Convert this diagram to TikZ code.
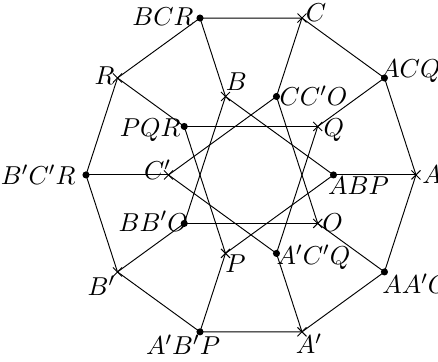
\documentclass[tikz,border=0pt]{standalone}
\usetikzlibrary{shapes.misc}
\begin{document}
\begin{tikzpicture}[dot/.style={circle,fill,inner sep=0pt,minimum size=3pt},
  crs/.style={cross out,draw,inner sep=0pt,minimum size=3.4pt},
  every node/.append style={font=\fontsize{11.4}{13}\selectfont}]
\useasboundingbox (-3.727000,-2.777000) rectangle (2.777000,2.598000);
% outer ring
\node [crs] (pA) at (2.450000,0.000000) {};
\node [dot] (lACQ) at (1.982100,1.440100) {};
\node [crs] (pC) at (0.757100,2.330100) {};
\node [dot] (lBCR) at (-0.757100,2.330100) {};
\node [crs] (pR) at (-1.982100,1.440100) {};
\node [dot] (lBpCpR) at (-2.450000,0.000000) {};
\node [crs] (pBp) at (-1.982100,-1.440100) {};
\node [dot] (lApBpP) at (-0.757100,-2.330100) {};
\node [crs] (pAp) at (0.757100,-2.330100) {};
\node [dot] (lAApO) at (1.982100,-1.440100) {};
% inner ring
\node [dot] (lABP) at (1.225000,0.000000) {};
\node [crs] (pQ) at (0.991100,0.720000) {};
\node [dot] (lCCpO) at (0.378500,1.165000) {};
\node [crs] (pB) at (-0.378500,1.165000) {};
\node [dot] (lPQR) at (-0.991100,0.720000) {};
\node [crs] (pCp) at (-1.225000,0.000000) {};
\node [dot] (lBBpO) at (-0.991100,-0.720000) {};
\node [crs] (pP) at (-0.378500,-1.165000) {};
\node [dot] (lApCpQ) at (0.378500,-1.165000) {};
\node [crs] (pO) at (0.991100,-0.720000) {};
% labels
\node (tA) at (2.688000,0.000000) {$A$};
\node (tACQ) at (2.368000,1.544000) {$ACQ$};
\node (tC) at (0.965000,2.404000) {$C$};
\node (tBCR) at (-1.306000,2.345000) {$BCR$};
\node (tR) at (-2.175000,1.470000) {$R$};
\node (tBpCpR) at (-3.160000,0.000000) {$B'C'R$};
\node (tBp) at (-2.220000,-1.648000) {$B'$};
\node (tApBpP) at (-1.009000,-2.523000) {$A'B'P$};
\node (tAp) at (0.861000,-2.508000) {$A'$};
\node (tAApO) at (2.442000,-1.618000) {$AA'O$};
\node (tABP) at (1.596000,-0.163000) {$ABP$};
\node (tQ) at (1.229000,0.661000) {$Q$};
\node (tCCpO) at (0.928000,1.180000) {$CC'O$};
\node (tB) at (-0.216000,1.388000) {$B$};
\node (tPQR) at (-1.496000,0.661000) {$PQR$};
\node (tCp) at (-1.388000,0.074000) {$C'$};
\node (tBBpO) at (-1.451000,-0.690000) {$BB'O$};
\node (tP) at (-0.231000,-1.313000) {$P$};
\node (tApCpQ) at (0.928000,-1.224000) {$A'C'Q$};
\node (tO) at (1.214000,-0.705000) {$O$};
% decagon
\draw (pA.center) -- (lACQ.center) -- (pC.center) -- (lBCR.center) -- (pR.center)
  -- (lBpCpR.center) -- (pBp.center) -- (lApBpP.center) -- (pAp.center)
  -- (lAApO.center) -- cycle;
% lines through the inner points
\draw (lBCR.center) -- (pB.center);
\draw (lACQ.center) -- (pQ.center);
\draw (lAApO.center) -- (pO.center);
\draw (lApBpP.center) -- (pP.center);
\draw (lBpCpR.center) -- (pCp.center);
\draw (pR.center) -- (lPQR.center);
\draw (pC.center) -- (lCCpO.center);
\draw (pA.center) -- (lABP.center);
\draw (pAp.center) -- (lApCpQ.center);
\draw (pBp.center) -- (lBBpO.center);
\draw (lPQR.center) -- (pQ.center);
\draw (lPQR.center) -- (pP.center);
\draw (lCCpO.center) -- (pCp.center);
\draw (lCCpO.center) -- (pO.center);
\draw (lABP.center) -- (pB.center);
\draw (lABP.center) -- (pP.center);
\draw (lApCpQ.center) -- (pCp.center);
\draw (lApCpQ.center) -- (pQ.center);
\draw (lBBpO.center) -- (pB.center);
\draw (lBBpO.center) -- (pO.center);
\end{tikzpicture}
\end{document}
